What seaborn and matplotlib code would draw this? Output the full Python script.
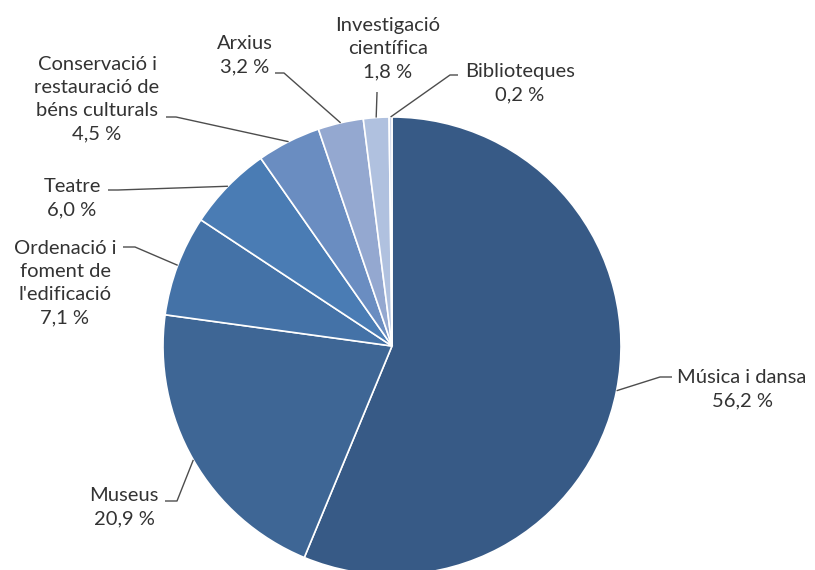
import numpy as np
import matplotlib
matplotlib.use("Agg")
import matplotlib.pyplot as plt
import seaborn as sns

# Data
categories = ["Música i dansa", "Museus", "Ordenació i\nfoment de\nl'edificació", "Teatre",
              "Conservació i\nrestauració de\nbéns culturals", "Arxius",
              "Investigació\ncientífica", "Biblioteques"]
shares = [56.2, 20.9, 7.1, 6.0, 4.5, 3.2, 1.8, 0.2]
share_labels = ["56,2 %", "20,9 %", "7,1 %", "6,0 %", "4,5 %", "3,2 %", "1,8 %", "0,2 %"]

colors = ["#375A86", "#3E6695", "#4472A7", "#4A7CB4", "#6A8DC1", "#94A8D0", "#B0C1DF", "#CBD5E9"]

sns.set_theme(style="white")
plt.rcParams['font.family'] = ['Lato', 'DejaVu Sans']

W, H = 815, 570
fig = plt.figure(figsize=(W / 100, H / 100), dpi=100)
ax = fig.add_axes([0, 0, 1, 1])


def px(x, y):
    # pixel coords (y down) -> axes coords (y up)
    return x, H - y


cx, cy = px(392, 346)
radius = 229
wedges, _ = ax.pie(shares, colors=colors, startangle=90, counterclock=False,
                   center=(cx, cy), radius=radius, frame=True,
                   wedgeprops=dict(edgecolor="white", linewidth=1.2))
ax.set_xlim(0, W)
ax.set_ylim(0, H)
ax.set_aspect("equal")
ax.axis("off")

# label block centre, leader start next to the text, elbow (pixel coords)
label_pos = [
    ((742, 389), (672, 377), (660, 377)),
    ((124, 507), (165, 501), (177, 501)),
    ((65, 283), (123, 247), (135, 247)),
    ((72, 198), (108, 190), (118, 190)),
    ((97, 99), (166, 117), (176, 117)),
    ((245, 55), (275, 73), (284, 73)),
    ((388, 49), (377, 92), (377, 93)),
    ((520, 83), (458, 75), (450, 75)),
]

for w, name, pct, (txt, start, elbow) in zip(wedges, categories, share_labels, label_pos):
    mid = np.deg2rad((w.theta1 + w.theta2) / 2)
    anchor = (cx + radius * np.cos(mid), cy + radius * np.sin(mid))
    pts = [px(*start), px(*elbow), anchor]
    ax.plot([p[0] for p in pts], [p[1] for p in pts], color="#4D4D4D", lw=1, solid_capstyle="butt")
    ax.text(*px(*txt), f"{name}\n{pct}", ha="center", va="center", fontsize=14.5,
            color="#333333", linespacing=1.45)

fig.savefig("out.png", dpi=100)
